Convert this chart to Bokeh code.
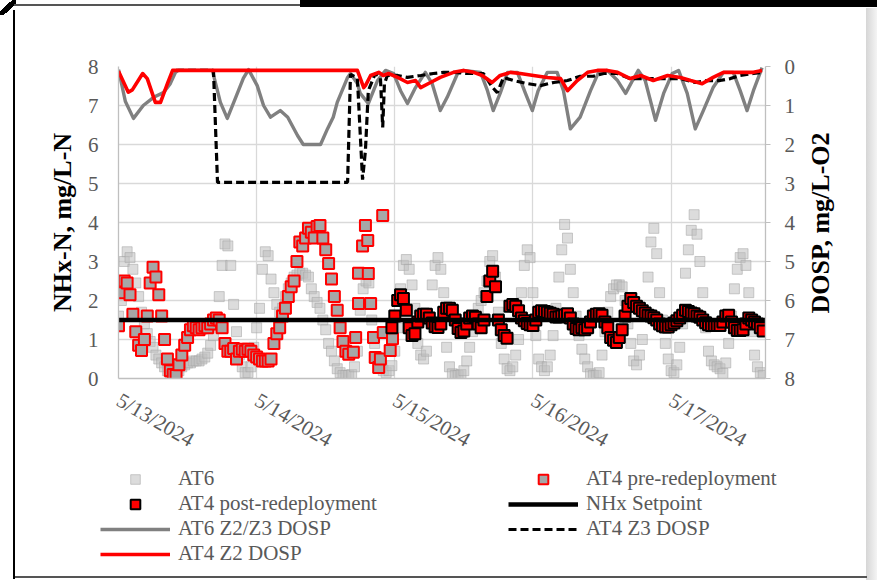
import math
from bokeh.plotting import figure
from bokeh.layouts import column
from bokeh.models import Range1d, LinearAxis, FixedTicker, Legend, LegendItem
from bokeh.embed import file_html
from bokeh.resources import INLINE

# ---------------- data (x = hours after 5/13/2024 00:00) ----------------
X_END = 112.4
day_ticks = [0, 24, 48, 72, 96]
day_labels = ["5/13/2024", "5/14/2024", "5/15/2024", "5/16/2024", "5/17/2024"]
nhx_ticks = [0, 1, 2, 3, 4, 5, 6, 7, 8]
do_ticks = [0, 1, 2, 3, 4, 5, 6, 7, 8]

# AT6 NHx-N, every 0.5 h
at6_nhx = [
    1.6, 2.0, 3.0, 3.25, 3.1, 2.8, 2.45, 2.1, 1.7, 1.4,
    1.15, 0.95, 0.8, 0.6, 0.5, 0.4, 0.3, 0.2, 0.1, 0.05,
    0.1, 0.2, 0.3, 0.35, 0.4, 0.4, 0.45, 0.45, 0.45, 0.5,
    0.55, 0.65, 0.85, 1.1, 1.5, 2.1, 2.9, 3.45, 3.4, 2.9,
    1.9, 1.2, 0.6, 0.3, 0.15, 0.15, 0.3, 0.8, 1.3, 1.8,
    2.8, 3.25, 3.15, 2.55, 2.2, 1.9, 1.7, 1.8, 2.1, 2.3,
    2.45, 2.6, 2.65, 2.7, 2.7, 2.65, 2.6, 2.3, 2.1, 1.95,
    1.8, 1.5, 1.25, 0.9, 0.7, 0.45, 0.25, 0.15, 0.08, 0.08,
    0.08, 0.1, 0.3, 0.7, 1.75, 2.3, 2.5, 2.45, 1.5, 0.9,
    0.55, 0.3, 0.2, 0.15, 0.2, 0.33, 0.7, 1.3, 2.3, 2.9,
    3.05, 2.8, 2.4, 1.8, 0.9, 0.6, 0.5, 0.7, 1.5, 2.4,
    2.9, 3.1, 2.8, 2.2, 0.8, 0.3, 0.12, 0.08, 0.08, 0.1,
    0.2, 0.45, 0.8, 1.2, 1.5, 1.8, 2.0, 2.2, 2.5, 3.0,
    3.15, 2.6, 1.7, 0.9, 0.5, 0.25, 0.2, 0.3, 0.6, 1.0,
    2.2, 2.9, 3.3, 3.1, 2.2, 1.1, 0.5, 0.3, 0.2, 0.3,
    0.6, 1.1, 1.8, 2.6, 3.3, 3.95, 3.6, 2.8, 2.2, 1.6,
    1.1, 0.75, 0.5, 0.3, 0.12, 0.08, 0.08, 0.15, 0.6, 1.2,
    1.7, 2.1, 2.3, 2.4, 2.4, 2.35, 2.0, 1.4, 0.9, 0.45,
    0.35, 0.6, 1.0, 1.6, 2.6, 3.5, 3.85, 3.2, 2.2, 1.5,
    0.9, 0.5, 0.2, 0.15, 0.35, 0.8, 1.4, 2.7, 3.3, 3.8,
    4.2, 3.7, 3.0, 2.2, 1.3, 0.7, 0.45, 0.35, 0.3, 0.25,
    0.13, 0.4, 0.9, 1.6, 2.3, 2.8, 3.1, 3.2, 2.9, 2.2,
    1.2, 0.6, 0.3, 0.15, 0.08,
]
at6_hours = [0.5 * i for i in range(len(at6_nhx))]

# AT4 pre-redeployment: every 0.5 h to 40 h, then irregular readings
at4_pre_nhx_regular = [
    1.35, 2.2, 2.5, 2.45, 2.15, 1.65, 1.2, 0.85, 0.72, 1.0,
    1.6, 2.45, 2.85, 2.6, 2.15, 1.6, 1.0, 0.5, 0.2, 0.1,
    0.08, 0.35, 0.6, 0.85, 1.05, 1.25, 1.35, 1.3, 1.25, 1.3,
    1.35, 1.3, 1.4, 1.5, 1.55, 1.5, 1.3, 0.9, 0.7, 0.7,
    0.77, 0.5, 0.7, 0.75, 0.7, 0.75, 0.7, 0.6, 0.55, 0.5,
    0.45, 0.45, 0.45, 0.5, 0.9, 1.15, 1.3, 1.6, 1.8, 2.1,
    2.35, 2.5, 3.0, 3.5, 3.4, 3.6, 3.85, 3.75, 3.6, 3.9,
    3.92, 3.6, 3.3, 2.95, 2.55, 2.1, 1.75, 1.3, 0.95, 0.7,
    0.62,
]
at4_pre_tail_hours = [40.8, 41.2, 41.7, 41.7, 42.4, 42.9, 43.3, 43.4, 43.8,
                      44.3, 44.6, 45.2, 45.5, 45.9, 46.0, 47.2, 47.6]
at4_pre_tail_nhx = [0.67, 1.05, 2.7, 1.92, 3.4, 3.92, 3.54, 2.69, 1.92,
                    1.05, 0.54, 0.28, 0.5, 4.18, 1.18, 0.72, 1.02]
at4_pre_hours = [0.5 * i for i in range(len(at4_pre_nhx_regular))] + at4_pre_tail_hours
at4_pre_nhx = at4_pre_nhx_regular + at4_pre_tail_nhx

# AT4 post-redeployment, every 0.5 h from 47.5 h
at4_post_nhx = [
    1.3, 1.6, 2.0, 2.15, 2.05, 1.75, 1.3, 1.1, 1.15, 1.45,
    1.6, 1.65, 1.65, 1.55, 1.42, 1.33, 1.31, 1.4, 1.7, 1.8,
    1.8, 1.75, 1.5, 1.28, 1.18, 1.22, 1.4, 1.55, 1.6, 1.57,
    1.4, 1.3, 1.5, 2.1, 2.5, 2.75, 2.35, 1.5, 1.25, 1.1,
    1.03, 1.85, 1.9, 1.85, 1.74, 1.55, 1.48, 1.41, 1.38, 1.36,
    1.5, 1.7, 1.74, 1.72, 1.7, 1.67, 1.65, 1.58, 1.58, 1.6,
    1.63, 1.66, 1.55, 1.4, 1.28, 1.25, 1.3, 1.25, 1.3, 1.45,
    1.6, 1.65, 1.66, 1.62, 1.45, 1.3, 1.05, 0.98, 0.92, 1.05,
    1.25, 1.6, 1.85, 2.05, 1.95, 1.85, 1.8, 1.74, 1.68, 1.62,
    1.6, 1.56, 1.5, 1.4, 1.35, 1.32, 1.32, 1.38, 1.42, 1.48,
    1.55, 1.62, 1.75, 1.72, 1.68, 1.66, 1.6, 1.57, 1.5, 1.43,
    1.38, 1.36, 1.36, 1.36, 1.36, 1.45, 1.6, 1.62, 1.45, 1.3,
    1.23, 1.23, 1.25, 1.4, 1.55, 1.5, 1.45, 1.4, 1.3, 1.22,
]
at4_post_hours = [47.5 + 0.5 * i for i in range(len(at4_post_nhx))]

# NHx setpoint
setpoint_hours = [0, X_END]
setpoint_nhx = [1.5, 1.5]

# AT6 Z2/Z3 DO setpoint (right axis)
at6_do_hours = [0, 1.2, 2.6, 4.3, 6.1, 7.8, 9.0, 9.9, 10.4, 16.3,
                17.7, 18.9, 20.3, 21.7, 22.6, 24.1, 25.2, 26.4, 28.1, 29.4,
                31.1, 32.1, 35.1, 36.3, 37.3, 38.0, 39.8, 40.3, 41.5, 42.0,
                43.4, 45.0, 46.4, 47.8, 49.0, 50.2, 51.6, 53.3, 54.5, 55.9,
                57.1, 58.9, 59.9, 62.9, 64.1, 65.1, 66.3, 67.6, 69.3, 70.7,
                71.9, 72.9, 74.5, 76.2, 77.3, 78.5, 80.2, 82.0, 83.4, 84.9,
                86.7, 88.1, 89.3, 90.3, 91.5, 93.3, 94.7, 96.2, 97.3, 98.8,
                100.2, 101.6, 103.3, 105.1, 106.8, 108.0, 109.2, 110.3, 111.5, 111.8]
at6_do = [0.08, 0.9, 1.33, 1.0, 0.79, 0.67, 0.44, 0.15, 0.1, 0.1,
          0.92, 1.33, 0.82, 0.3, 0.08, 0.49, 1.0, 1.3, 1.13, 1.3,
          1.77, 2.0, 2.0, 1.6, 1.3, 0.92, 0.28, 0.18, 0.44, 0.69,
          0.95, 0.36, 0.1, 0.18, 0.62, 0.95, 0.54, 0.15, 0.44, 1.13,
          0.79, 0.18, 0.1, 0.15, 0.62, 1.13, 0.69, 0.15, 0.15, 0.69,
          1.13, 0.62, 0.15, 0.15, 0.62, 1.6, 1.3, 0.62, 0.15, 0.1,
          0.36, 0.69, 0.36, 0.1, 0.36, 1.38, 0.69, 0.18, 0.1, 0.69,
          1.6, 1.13, 0.54, 0.15, 0.15, 0.62, 1.13, 0.62, 0.15, 0.03]

# AT4 Z3 DO setpoint
at4_z3_hours = [10.0, 16.5, 17.2, 39.8, 40.3, 41.5, 42.4, 42.9, 43.4, 44.6,
                45.5, 45.9, 46.2, 46.7, 48.5, 50.2, 52.5, 54.7, 56.5, 58.2,
                60.6, 63.4, 65.0, 65.8, 66.9, 68.6, 71.1, 73.3, 75.6, 78.0,
                80.2, 82.5, 84.3, 86.7, 88.9, 91.9, 94.7, 97.6, 100.2, 102.3,
                104.5, 106.3, 108.0, 110.3, 111.8]
at4_z3_do = [0.1, 0.1, 2.97, 2.97, 0.2, 0.3, 2.9, 2.15, 0.62, 0.18,
             0.28, 1.56, 0.44, 0.23, 0.23, 0.28, 0.23, 0.18, 0.15, 0.15,
             0.18, 0.18, 0.54, 0.67, 0.28, 0.36, 0.44, 0.49, 0.41, 0.36,
             0.25, 0.25, 0.18, 0.18, 0.31, 0.31, 0.31, 0.31, 0.41, 0.36,
             0.36, 0.31, 0.23, 0.18, 0.15]

# AT4 Z2 DO setpoint
at4_z2_hours = [0, 1.7, 2.4, 4.2, 5.0, 6.4, 7.3, 8.5, 9.4,
                41.5, 42.6, 42.9, 43.8, 45.2, 46.0, 46.9,
                48.5, 50.2, 51.6, 52.5, 54.2, 55.9, 58.2, 59.9, 61.7, 63.2,
                64.9, 66.3, 68.1, 69.8, 72.1, 74.5, 76.8, 78.0, 79.7, 81.5,
                83.2, 84.9, 86.7, 88.9, 90.7, 92.9, 95.4, 97.6, 99.4, 101.4,
                103.3, 105.1, 108.0, 110.3, 111.8]
at4_z2_do = [0.12, 0.66, 0.6, 0.18, 0.31, 0.92, 0.92, 0.44, 0.1,
             0.1, 0.54, 0.49, 0.23, 0.15, 0.23, 0.18,
             0.28, 0.41, 0.36, 0.54, 0.41, 0.28, 0.15, 0.1, 0.15, 0.23,
             0.41, 0.23, 0.15, 0.18, 0.23, 0.28, 0.31, 0.62, 0.36, 0.15,
             0.1, 0.1, 0.15, 0.31, 0.23, 0.36, 0.23, 0.28, 0.36, 0.44,
             0.28, 0.15, 0.15, 0.15, 0.1]

legend_labels = ["AT6", "AT4 pre-redeployment", "AT4 post-redeployment", "NHx Setpoint",
                 "AT6 Z2/Z3 DOSP", "AT4 Z3 DOSP", "AT4 Z2 DOSP"]

# ---------------- layout / style ----------------
W, H = 877, 580
MAIN_H = 464
LEG_H = H - MAIN_H
FL, FR, FT, FB = 118, 765, 66, 378
SERIF = "Liberation Serif"
TXT = "#595959"
GRID = "#D9D9D9"
AXIS = "#BFBFBF"

STY = {
    "at6": dict(marker="square", fill_color="#BFBFBF", fill_alpha=0.55,
                line_color="#A6A6A6", line_alpha=0.55, line_width=1),
    "pre": dict(marker="square", fill_color="#A6A6A6", line_color="#FF0000", line_width=2),
    "post": dict(marker="square", fill_color="#FF0000", line_color="#000000", line_width=2),
    "sp": dict(line_color="black", line_width=4.5),
    "at6do": dict(line_color="#808080", line_width=3.4, line_join="round"),
    "z3": dict(line_color="black", line_width=3.2, line_dash="8 4"),
    "z2": dict(line_color="#FF0000", line_width=3.6, line_join="round"),
}

# cropped outer frame of the original chart image (CSS background layers)
main_css = ", ".join([
    "linear-gradient(#000,#000) 300px 0px / 577px 7px no-repeat",
    "linear-gradient(#555,#555) 14px 4px / 288px 2px no-repeat",
    "linear-gradient(#000,#000) 13px 10px / 2px %dpx no-repeat" % (MAIN_H - 10),
    "linear-gradient(to right, #d6d6d6, #f4f4f4) 866px 8px / 11px %dpx no-repeat" % (MAIN_H - 8),
    "linear-gradient(to bottom right, transparent 38%, #000 38%, #000 62%, transparent 62%) 0px 0px / 16px 15px no-repeat",
    "#ffffff",
])
leg_css = ", ".join([
    "linear-gradient(#000,#000) 13px 0px / 2px %dpx no-repeat" % (LEG_H - 1),
    "linear-gradient(#555,#555) 13px %dpx / 854px 2px no-repeat" % (LEG_H - 4),
    "linear-gradient(to right, #d6d6d6, #f4f4f4) 866px 0px / 11px %dpx no-repeat" % LEG_H,
    "#ffffff",
])

p = figure(width=W, height=MAIN_H, output_backend="svg", toolbar_location=None,
           x_range=Range1d(0, X_END), y_range=Range1d(0, 8),
           min_border_left=FL, min_border_right=W - FR,
           min_border_top=FT, min_border_bottom=MAIN_H - FB)
p.extra_y_ranges = {"do": Range1d(start=8, end=0)}
p.outline_line_color = None
p.background_fill_color = "white"
p.border_fill_alpha = 0
p.styles = {"background": main_css}

xa = p.xaxis[0]
xa.ticker = FixedTicker(ticks=day_ticks)
xa.major_label_overrides = {t: l for t, l in zip(day_ticks, day_labels)}
xa.major_label_orientation = -math.pi / 6
xa.major_label_text_font = SERIF
xa.major_label_text_font_size = "21px"
xa.major_label_text_color = TXT
xa.major_label_standoff = 20
xa.major_tick_out = 0
xa.major_tick_in = 0
xa.minor_tick_out = 0
xa.minor_tick_in = 0
xa.axis_line_color = AXIS
xa.axis_line_width = 1.3

ya = p.yaxis[0]
ya.ticker = FixedTicker(ticks=nhx_ticks)
ya.major_label_text_font = SERIF
ya.major_label_text_font_size = "21px"
ya.major_label_text_color = TXT
ya.major_label_standoff = 20
ya.major_tick_out = 0
ya.major_tick_in = 0
ya.minor_tick_out = 0
ya.minor_tick_in = 0
ya.axis_line_color = AXIS
ya.axis_line_width = 1.3
ya.axis_label = "NHx-N, mg/L-N"
ya.axis_label_text_font = SERIF
ya.axis_label_text_font_style = "bold"
ya.axis_label_text_font_size = "26px"
ya.axis_label_text_color = "black"
ya.axis_label_standoff = 8

# right DO axis (ticks and labels only)
ra = LinearAxis(y_range_name="do", ticker=FixedTicker(ticks=do_ticks))
ra.major_label_text_font = SERIF
ra.major_label_text_font_size = "21px"
ra.major_label_text_color = TXT
ra.major_label_standoff = 14
ra.major_tick_out = 5
ra.major_tick_in = 0
ra.minor_tick_out = 0
ra.minor_tick_in = 0
ra.major_tick_line_color = AXIS
ra.axis_line_color = AXIS
ra.axis_line_width = 1.3
p.add_layout(ra, "right")

# second, bare right axis that only carries the DO title, read bottom to top;
# the title starts at the bottom of the axis, so it is led by no-break spaces
ta = LinearAxis(ticker=FixedTicker(ticks=[]))
ta.axis_line_color = None
ta.major_tick_out = 0
ta.major_tick_in = 0
ta.minor_tick_out = 0
ta.minor_tick_in = 0
ta.major_label_standoff = 0
ta.axis_label = "\u00a0" * 10 + "DOSP, mg/L-O2"
ta.axis_label_text_font = SERIF
ta.axis_label_text_font_style = "bold"
ta.axis_label_text_font_size = "26px"
ta.axis_label_text_color = "black"
ta.axis_label_standoff = 22
try:
    ta.axis_label_align = "start"
    ta.axis_label_orientation = math.pi / 2
except Exception:
    pass
p.add_layout(ta, "right")

p.xgrid.grid_line_color = GRID
p.xgrid.grid_line_width = 1.3
p.ygrid.grid_line_color = GRID
p.ygrid.grid_line_width = 1.3

p.scatter(at6_hours, at6_nhx, size=10, **STY["at6"])
p.scatter(at4_pre_hours, at4_pre_nhx, size=11, **STY["pre"])
p.scatter(at4_post_hours, at4_post_nhx, size=11, **STY["post"])
p.line(setpoint_hours, setpoint_nhx, **STY["sp"])
p.line(at6_do_hours, at6_do, y_range_name="do", **STY["at6do"])
p.line(at4_z3_hours, at4_z3_do, y_range_name="do", **STY["z3"])
p.line(at4_z2_hours, at4_z2_do, y_range_name="do", **STY["z2"])

# ---------------- legend strip (own figure below the chart) ----------------
# its ranges show no data: its renderers only feed the legend's glyphs
lg = figure(width=W, height=LEG_H, output_backend="svg", toolbar_location=None,
            x_range=Range1d(-20, -10), y_range=Range1d(-20, -10),
            x_axis_type=None, y_axis_type=None,
            min_border_left=0, min_border_right=0, min_border_top=0, min_border_bottom=0)
lg.outline_line_color = None
lg.background_fill_alpha = 0
lg.border_fill_alpha = 0
lg.grid.visible = False
lg.styles = {"background": leg_css}
for fig in (p, lg):
    try:
        fig.frame_align = False
    except Exception:
        pass

series = {
    "at6": (at6_hours, at6_nhx), "pre": (at4_pre_hours, at4_pre_nhx),
    "post": (at4_post_hours, at4_post_nhx), "sp": (setpoint_hours, setpoint_nhx),
    "at6do": (at6_do_hours, at6_do), "z3": (at4_z3_hours, at4_z3_do),
    "z2": (at4_z2_hours, at4_z2_do),
}
keys = ["at6", "pre", "post", "sp", "at6do", "z3", "z2"]
items = []
for key, lab in zip(keys, legend_labels):
    xs, ys = series[key]
    if key in ("at6", "pre", "post"):
        r = lg.scatter(xs, ys, size=10, **STY[key])
    else:
        r = lg.line(xs, ys, **STY[key])
    items.append(LegendItem(label=lab, renderers=[r]))

legend = Legend(items=items, location=(100, 14), orientation="horizontal", ncols=2,
                padding=0, margin=0, spacing=0, border_line_color=None,
                background_fill_alpha=0, glyph_width=70, glyph_height=24,
                label_standoff=8, label_width=330, label_height=24,
                label_text_font=SERIF, label_text_font_size="21px",
                label_text_color=TXT)
lg.add_layout(legend)

layout = column(p, lg, spacing=0)
open("out.html", "w").write(file_html(layout, INLINE))
